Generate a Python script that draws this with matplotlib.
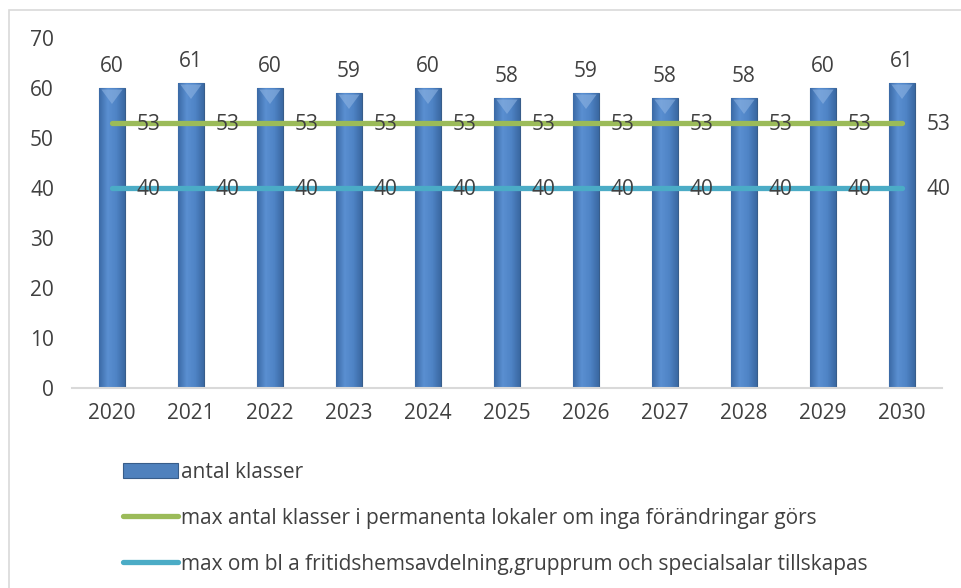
import matplotlib
matplotlib.use("Agg")
import matplotlib.pyplot as plt
import numpy as np
from matplotlib.colors import LinearSegmentedColormap
from matplotlib.patches import Rectangle

years = ["2020", "2021", "2022", "2023", "2024", "2025", "2026", "2027", "2028", "2029", "2030"]
antal_klasser = [60, 61, 60, 59, 60, 58, 59, 58, 58, 60, 61]
max_permanenta = [53] * 11
max_tillskapas = [40] * 11

lbl_bar = "antal klasser"
lbl_green = "max antal klasser i permanenta lokaler om inga förändringar görs"
lbl_cyan = "max om bl a fritidshemsavdelning,grupprum och specialsalar tillskapas"

TXT = "#404040"
BLUE = "#4F81BD"
GREEN = "#9BBB59"
CYAN = "#4BACC6"
FS = 15

plt.rcParams["font.family"] = ["Open Sans", "DejaVu Sans"]

fig = plt.figure(figsize=(9.62, 5.88), dpi=100)
ax = fig.add_axes([72 / 962, 1 - 388 / 588, 870 / 962, 350 / 588])

# outer chart border
fig.patches.append(Rectangle((9 / 962, -0.1), 1.2, 1 - 10 / 588 + 0.1, transform=fig.transFigure,
                             fill=False, edgecolor="#D9D9D9", linewidth=1.2))

x = np.arange(len(years))
bars = ax.bar(x, antal_klasser, width=0.32, color=BLUE, edgecolor="#385D8A", linewidth=0.8,
              label=lbl_bar, zorder=2)

# bevel-like horizontal gradient inside each bar
cmap = LinearSegmentedColormap.from_list("bev", ["#3B6AA6", "#5A8FD1", "#4F84C6", "#3A68A2"])
grad = np.linspace(0, 1, 64).reshape(1, -1)
for b in bars:
    x0, w, h = b.get_x(), b.get_width(), b.get_height()
    im = ax.imshow(grad, cmap=cmap, aspect="auto", extent=[x0, x0 + w, 0, h], zorder=2.1)
    im.set_clip_path(b)
    ax.fill([x0 + w * 0.08, x0 + w * 0.92, x0 + w / 2], [h - 0.3, h - 0.3, h - 3.2],
            color="#8DB3E2", alpha=0.6, zorder=2.2, linewidth=0)

ax.plot(x, max_permanenta, color=GREEN, lw=3.8, solid_capstyle="round", label=lbl_green, zorder=3)
ax.plot(x, max_tillskapas, color=CYAN, lw=3.8, solid_capstyle="round", label=lbl_cyan, zorder=3)

for xi, v in zip(x, antal_klasser):
    ax.annotate(str(v), (xi, v), xytext=(0, 8), textcoords="offset points",
                ha="center", va="bottom", fontsize=FS, color=TXT, zorder=4)
for series in (max_permanenta, max_tillskapas):
    for xi, v in zip(x, series):
        ax.annotate(str(v), (xi, v), xytext=(26, -1), textcoords="offset points",
                    ha="center", va="center", fontsize=FS, color=TXT, zorder=4)

ax.set_xlim(-0.506, 10.506)
ax.set_ylim(0, 70)
ax.set_yticks(range(0, 71, 10))
ax.set_xticks(x)
ax.set_xticklabels(years)
ax.tick_params(axis="both", length=0, labelsize=FS, labelcolor=TXT)
ax.tick_params(axis="y", pad=13)
ax.tick_params(axis="x", pad=11)
for s in ("top", "right", "left"):
    ax.spines[s].set_visible(False)
ax.spines["bottom"].set_color("#D9D9D9")
ax.spines["bottom"].set_linewidth(1.5)
ax.set_facecolor("none")

h, l = ax.get_legend_handles_labels()
order = [l.index(lbl_bar), l.index(lbl_green), l.index(lbl_cyan)]
leg = fig.legend([h[i] for i in order], [l[i] for i in order], loc="upper left",
                 bbox_to_anchor=(104 / 962, 1 - 443 / 588), frameon=False, fontsize=FS,
                 handlelength=2.65, handletextpad=0.15, labelspacing=1.2, labelcolor=TXT)

fig.savefig("out.png", dpi=100)
